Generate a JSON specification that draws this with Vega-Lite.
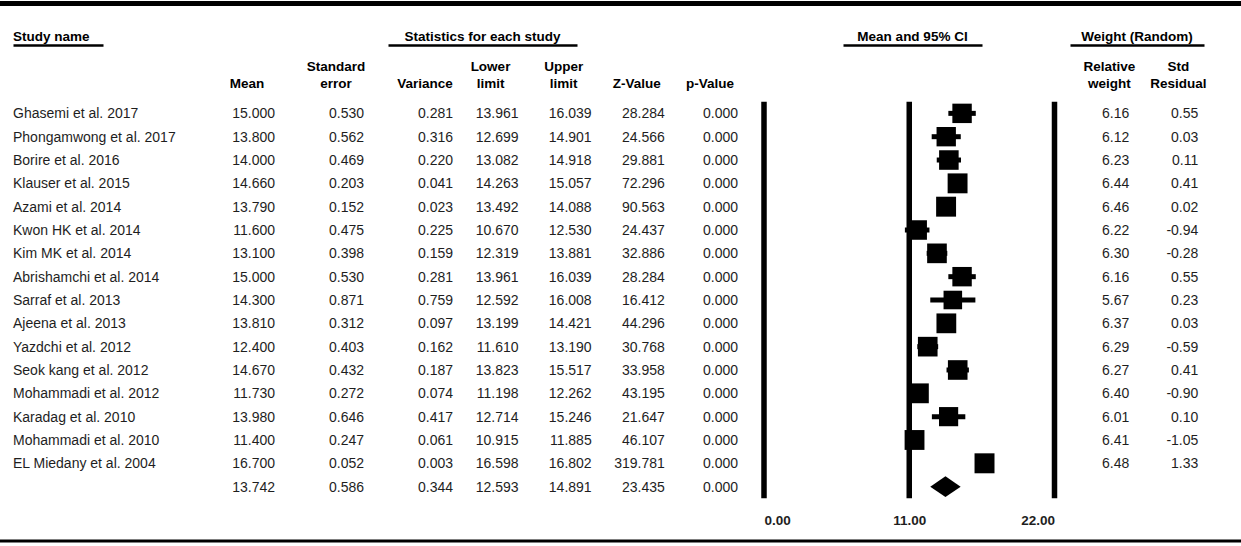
{
  "$schema": "https://vega.github.io/schema/vega-lite/v6.json",
  "width": 1241,
  "height": 546,
  "autosize": {"type": "none"},
  "padding": 0,
  "background": "white",
  "config": {
    "view": {"stroke": null},
    "text": {"font": "Liberation Sans", "color": "#1e1e1e"},
    "axis": {"labelFont": "Liberation Sans"},
    "locale": {"number": {"decimal": ".", "thousands": ",", "grouping": [3], "currency": ["$", ""], "minus": "-"}}
  },
  "datasets": {
    "studies": [
      {"study": "Ghasemi et al. 2017", "mean": 15.000, "se": 0.530, "variance": 0.281, "lower": 13.961, "upper": 16.039, "z": 28.284, "p": 0.000, "rw": 6.16, "sr": 0.55},
      {"study": "Phongamwong et al. 2017", "mean": 13.800, "se": 0.562, "variance": 0.316, "lower": 12.699, "upper": 14.901, "z": 24.566, "p": 0.000, "rw": 6.12, "sr": 0.03},
      {"study": "Borire et al. 2016", "mean": 14.000, "se": 0.469, "variance": 0.220, "lower": 13.082, "upper": 14.918, "z": 29.881, "p": 0.000, "rw": 6.23, "sr": 0.11},
      {"study": "Klauser et al. 2015", "mean": 14.660, "se": 0.203, "variance": 0.041, "lower": 14.263, "upper": 15.057, "z": 72.296, "p": 0.000, "rw": 6.44, "sr": 0.41},
      {"study": "Azami et al. 2014", "mean": 13.790, "se": 0.152, "variance": 0.023, "lower": 13.492, "upper": 14.088, "z": 90.563, "p": 0.000, "rw": 6.46, "sr": 0.02},
      {"study": "Kwon HK et al. 2014", "mean": 11.600, "se": 0.475, "variance": 0.225, "lower": 10.670, "upper": 12.530, "z": 24.437, "p": 0.000, "rw": 6.22, "sr": -0.94},
      {"study": "Kim MK et al. 2014", "mean": 13.100, "se": 0.398, "variance": 0.159, "lower": 12.319, "upper": 13.881, "z": 32.886, "p": 0.000, "rw": 6.30, "sr": -0.28},
      {"study": "Abrishamchi et al. 2014", "mean": 15.000, "se": 0.530, "variance": 0.281, "lower": 13.961, "upper": 16.039, "z": 28.284, "p": 0.000, "rw": 6.16, "sr": 0.55},
      {"study": "Sarraf et al. 2013", "mean": 14.300, "se": 0.871, "variance": 0.759, "lower": 12.592, "upper": 16.008, "z": 16.412, "p": 0.000, "rw": 5.67, "sr": 0.23},
      {"study": "Ajeena et al. 2013", "mean": 13.810, "se": 0.312, "variance": 0.097, "lower": 13.199, "upper": 14.421, "z": 44.296, "p": 0.000, "rw": 6.37, "sr": 0.03},
      {"study": "Yazdchi et al. 2012", "mean": 12.400, "se": 0.403, "variance": 0.162, "lower": 11.610, "upper": 13.190, "z": 30.768, "p": 0.000, "rw": 6.29, "sr": -0.59},
      {"study": "Seok kang et al. 2012", "mean": 14.670, "se": 0.432, "variance": 0.187, "lower": 13.823, "upper": 15.517, "z": 33.958, "p": 0.000, "rw": 6.27, "sr": 0.41},
      {"study": "Mohammadi et al. 2012", "mean": 11.730, "se": 0.272, "variance": 0.074, "lower": 11.198, "upper": 12.262, "z": 43.195, "p": 0.000, "rw": 6.40, "sr": -0.90},
      {"study": "Karadag et al. 2010", "mean": 13.980, "se": 0.646, "variance": 0.417, "lower": 12.714, "upper": 15.246, "z": 21.647, "p": 0.000, "rw": 6.01, "sr": 0.10},
      {"study": "Mohammadi et al. 2010", "mean": 11.400, "se": 0.247, "variance": 0.061, "lower": 10.915, "upper": 11.885, "z": 46.107, "p": 0.000, "rw": 6.41, "sr": -1.05},
      {"study": "EL Miedany et al. 2004", "mean": 16.700, "se": 0.052, "variance": 0.003, "lower": 16.598, "upper": 16.802, "z": 319.781, "p": 0.000, "rw": 6.48, "sr": 1.33},
      {"study": "Combined", "mean": 13.742, "se": 0.586, "variance": 0.344, "lower": 12.593, "upper": 14.891, "z": 23.435, "p": 0.000, "rw": null, "sr": null}
    ],
    "groups": [
      {"group": "study", "text": "Study name"},
      {"group": "stats", "text": "Statistics for each study"},
      {"group": "ci", "text": "Mean and 95% CI"},
      {"group": "weight", "text": "Weight (Random)"}
    ],
    "headers": [
      {"group": "statsA", "col": "mean", "text": "\nMean"},
      {"group": "statsA", "col": "se", "text": "Standard\nerror"},
      {"group": "statsA", "col": "variance", "text": "\nVariance"},
      {"group": "statsB", "col": "lower", "text": "Lower\nlimit"},
      {"group": "statsB", "col": "upper", "text": "Upper\nlimit"},
      {"group": "statsB", "col": "z", "text": "\nZ-Value"},
      {"group": "statsB", "col": "p", "text": "\np-Value"},
      {"group": "weight", "col": "rw", "text": "Relative\nweight"},
      {"group": "weight", "col": "sr", "text": "Std\nResidual"}
    ],
    "frame": [{"line": "top"}, {"line": "bottom"}],
    "refs": [{"v": 0}, {"v": 11}, {"v": 22}]
  },
  "layer": [
    {
      "data": {"name": "frame"},
      "mark": {"type": "rule", "color": "#000"},
      "encoding": {
        "y": {"field": "line", "type": "nominal", "axis": null, "scale": {"type": "point", "domain": ["top", "bottom"], "range": [3.5, 541], "padding": 0}},
        "strokeWidth": {"field": "line", "type": "nominal", "legend": null, "scale": {"domain": ["top", "bottom"], "range": [5, 3]}}
      }
    },
    {
      "data": {"name": "groups"},
      "transform": [{"filter": "datum.group === 'study'"}],
      "mark": {"type": "text", "align": "left", "baseline": "bottom", "fontWeight": "bold", "fontSize": 13.5, "color": "#000"},
      "encoding": {
        "x": {"field": "group", "type": "nominal", "scale": {"type": "point", "domain": ["study"], "range": [13, 103], "padding": 0, "align": 0},
              "axis": {"orient": "top", "offset": -45, "domain": true, "domainColor": "#000", "domainWidth": 2.5, "ticks": false, "labels": false, "grid": false, "title": null}},
        "y": {"datum": "title", "type": "nominal", "axis": null, "scale": {"type": "point", "domain": ["title", "colhead"], "range": [43.5, 73.5], "padding": 0}},
        "text": {"field": "text"}
      }
    },
    {
      "data": {"name": "groups"},
      "transform": [{"filter": "datum.group === 'stats'"}],
      "mark": {"type": "text", "align": "center", "baseline": "bottom", "fontWeight": "bold", "fontSize": 13.5, "color": "#000"},
      "encoding": {
        "x": {"field": "group", "type": "nominal", "scale": {"type": "point", "domain": ["stats"], "range": [388, 577], "padding": 0},
              "axis": {"orient": "top", "offset": -45, "domain": true, "domainColor": "#000", "domainWidth": 2.5, "ticks": false, "labels": false, "grid": false, "title": null}},
        "y": {"datum": "title", "type": "nominal", "axis": null, "scale": {"type": "point", "domain": ["title", "colhead"], "range": [43.5, 73.5], "padding": 0}},
        "text": {"field": "text"}
      }
    },
    {
      "data": {"name": "groups"},
      "transform": [{"filter": "datum.group === 'ci'"}],
      "mark": {"type": "text", "align": "center", "baseline": "bottom", "fontWeight": "bold", "fontSize": 13.5, "color": "#000"},
      "encoding": {
        "x": {"field": "group", "type": "nominal", "scale": {"type": "point", "domain": ["ci"], "range": [843, 982], "padding": 0},
              "axis": {"orient": "top", "offset": -45, "domain": true, "domainColor": "#000", "domainWidth": 2.5, "ticks": false, "labels": false, "grid": false, "title": null}},
        "y": {"datum": "title", "type": "nominal", "axis": null, "scale": {"type": "point", "domain": ["title", "colhead"], "range": [43.5, 73.5], "padding": 0}},
        "text": {"field": "text"}
      }
    },
    {
      "data": {"name": "groups"},
      "transform": [{"filter": "datum.group === 'weight'"}],
      "mark": {"type": "text", "align": "center", "baseline": "bottom", "fontWeight": "bold", "fontSize": 13.5, "color": "#000"},
      "encoding": {
        "x": {"field": "group", "type": "nominal", "scale": {"type": "point", "domain": ["weight"], "range": [1070, 1204], "padding": 0},
              "axis": {"orient": "top", "offset": -45, "domain": true, "domainColor": "#000", "domainWidth": 2.5, "ticks": false, "labels": false, "grid": false, "title": null}},
        "y": {"datum": "title", "type": "nominal", "axis": null, "scale": {"type": "point", "domain": ["title", "colhead"], "range": [43.5, 73.5], "padding": 0}},
        "text": {"field": "text"}
      }
    },
    {
      "data": {"name": "studies"},
      "transform": [{"filter": "datum.study !== 'Combined'"}],
      "mark": {"type": "text", "align": "left", "baseline": "middle", "fontSize": 14, "dy": 1},
      "encoding": {
        "x": {"datum": "study", "type": "nominal", "axis": null, "scale": {"type": "point", "domain": ["study"], "range": [13, 103], "padding": 0, "align": 0}},
        "y": {"field": "study", "type": "nominal", "axis": null, "scale": {"type": "band", "domain": ["Ghasemi et al. 2017", "Phongamwong et al. 2017", "Borire et al. 2016", "Klauser et al. 2015", "Azami et al. 2014", "Kwon HK et al. 2014", "Kim MK et al. 2014", "Abrishamchi et al. 2014", "Sarraf et al. 2013", "Ajeena et al. 2013", "Yazdchi et al. 2012", "Seok kang et al. 2012", "Mohammadi et al. 2012", "Karadag et al. 2010", "Mohammadi et al. 2010", "EL Miedany et al. 2004", "Combined"], "range": [101.7, 498.3], "paddingInner": 0, "paddingOuter": 0}},
        "text": {"field": "study"}
      }
    },
    {
      "data": {"name": "studies"},
      "transform": [{"fold": ["mean", "se", "variance"], "as": ["key", "value"]}],
      "mark": {"type": "text", "align": "right", "baseline": "middle", "fontSize": 14, "dy": 1},
      "encoding": {
        "x": {"field": "key", "type": "nominal", "axis": null, "scale": {"type": "point", "domain": ["mean", "se", "variance"], "range": [275, 453], "padding": 0}},
        "y": {"field": "study", "type": "nominal", "axis": null, "scale": {"type": "band", "domain": ["Ghasemi et al. 2017", "Phongamwong et al. 2017", "Borire et al. 2016", "Klauser et al. 2015", "Azami et al. 2014", "Kwon HK et al. 2014", "Kim MK et al. 2014", "Abrishamchi et al. 2014", "Sarraf et al. 2013", "Ajeena et al. 2013", "Yazdchi et al. 2012", "Seok kang et al. 2012", "Mohammadi et al. 2012", "Karadag et al. 2010", "Mohammadi et al. 2010", "EL Miedany et al. 2004", "Combined"], "range": [101.7, 498.3], "paddingInner": 0, "paddingOuter": 0}},
        "text": {"field": "value", "type": "quantitative", "format": ".3f"}
      }
    },
    {
      "data": {"name": "headers"},
      "transform": [{"filter": "datum.group === 'statsA'"}],
      "mark": {"type": "text", "align": "center", "baseline": "bottom", "fontWeight": "bold", "fontSize": 13.5, "lineBreak": "\n", "lineHeight": 17.6, "dx": -28, "color": "#000"},
      "encoding": {
        "x": {"field": "col", "type": "nominal", "axis": null, "scale": {"type": "point", "domain": ["mean", "se", "variance"], "range": [275, 453], "padding": 0}},
        "y": {"datum": "colhead", "type": "nominal", "axis": null, "scale": {"type": "point", "domain": ["title", "colhead"], "range": [43.5, 73.5], "padding": 0}},
        "text": {"field": "text"}
      }
    },
    {
      "data": {"name": "studies"},
      "transform": [{"fold": ["lower", "upper", "z", "p"], "as": ["key", "value"]}],
      "mark": {"type": "text", "align": "right", "baseline": "middle", "fontSize": 14, "dy": 1},
      "encoding": {
        "x": {"field": "key", "type": "nominal", "axis": null, "scale": {"type": "point", "domain": ["lower", "upper", "z", "p"], "range": [518.5, 738], "padding": 0}},
        "y": {"field": "study", "type": "nominal", "axis": null, "scale": {"type": "band", "domain": ["Ghasemi et al. 2017", "Phongamwong et al. 2017", "Borire et al. 2016", "Klauser et al. 2015", "Azami et al. 2014", "Kwon HK et al. 2014", "Kim MK et al. 2014", "Abrishamchi et al. 2014", "Sarraf et al. 2013", "Ajeena et al. 2013", "Yazdchi et al. 2012", "Seok kang et al. 2012", "Mohammadi et al. 2012", "Karadag et al. 2010", "Mohammadi et al. 2010", "EL Miedany et al. 2004", "Combined"], "range": [101.7, 498.3], "paddingInner": 0, "paddingOuter": 0}},
        "text": {"field": "value", "type": "quantitative", "format": ".3f"}
      }
    },
    {
      "data": {"name": "headers"},
      "transform": [{"filter": "datum.group === 'statsB'"}],
      "mark": {"type": "text", "align": "center", "baseline": "bottom", "fontWeight": "bold", "fontSize": 13.5, "lineBreak": "\n", "lineHeight": 17.6, "dx": -28, "color": "#000"},
      "encoding": {
        "x": {"field": "col", "type": "nominal", "axis": null, "scale": {"type": "point", "domain": ["lower", "upper", "z", "p"], "range": [518.5, 738], "padding": 0}},
        "y": {"datum": "colhead", "type": "nominal", "axis": null, "scale": {"type": "point", "domain": ["title", "colhead"], "range": [43.5, 73.5], "padding": 0}},
        "text": {"field": "text"}
      }
    },
    {
      "data": {"name": "studies"},
      "transform": [{"fold": ["rw", "sr"], "as": ["key", "value"]}, {"filter": "isValid(datum.value)"}],
      "mark": {"type": "text", "align": "right", "baseline": "middle", "fontSize": 14, "dy": 1},
      "encoding": {
        "x": {"field": "key", "type": "nominal", "axis": null, "scale": {"type": "point", "domain": ["rw", "sr"], "range": [1129.3, 1198.3], "padding": 0}},
        "y": {"field": "study", "type": "nominal", "axis": null, "scale": {"type": "band", "domain": ["Ghasemi et al. 2017", "Phongamwong et al. 2017", "Borire et al. 2016", "Klauser et al. 2015", "Azami et al. 2014", "Kwon HK et al. 2014", "Kim MK et al. 2014", "Abrishamchi et al. 2014", "Sarraf et al. 2013", "Ajeena et al. 2013", "Yazdchi et al. 2012", "Seok kang et al. 2012", "Mohammadi et al. 2012", "Karadag et al. 2010", "Mohammadi et al. 2010", "EL Miedany et al. 2004", "Combined"], "range": [101.7, 498.3], "paddingInner": 0, "paddingOuter": 0}},
        "text": {"field": "value", "type": "quantitative", "format": ".2f"}
      }
    },
    {
      "data": {"name": "headers"},
      "transform": [{"filter": "datum.group === 'weight'"}],
      "mark": {"type": "text", "align": "center", "baseline": "bottom", "fontWeight": "bold", "fontSize": 13.5, "lineBreak": "\n", "lineHeight": 17.6, "dx": -20, "color": "#000"},
      "encoding": {
        "x": {"field": "col", "type": "nominal", "axis": null, "scale": {"type": "point", "domain": ["rw", "sr"], "range": [1129.3, 1198.3], "padding": 0}},
        "y": {"datum": "colhead", "type": "nominal", "axis": null, "scale": {"type": "point", "domain": ["title", "colhead"], "range": [43.5, 73.5], "padding": 0}},
        "text": {"field": "text"}
      }
    },
    {
      "data": {"name": "refs"},
      "mark": {"type": "rule", "color": "#000", "strokeWidth": 5.5},
      "encoding": {
        "x": {"field": "v", "type": "quantitative", "scale": {"domain": [0, 22], "range": [764, 1054.5], "nice": false, "zero": false},
              "axis": {"orient": "bottom", "offset": -36, "values": [0, 11, 22], "format": ".2f", "domain": false, "ticks": false, "grid": false, "title": null, "labelFontWeight": "bold", "labelFontSize": 13.5, "labelColor": "#1e1e1e", "labelPadding": 3}},
        "y": {"datum": "Ghasemi et al. 2017", "type": "nominal", "bandPosition": 0, "axis": null, "scale": {"type": "band", "domain": ["Ghasemi et al. 2017", "Phongamwong et al. 2017", "Borire et al. 2016", "Klauser et al. 2015", "Azami et al. 2014", "Kwon HK et al. 2014", "Kim MK et al. 2014", "Abrishamchi et al. 2014", "Sarraf et al. 2013", "Ajeena et al. 2013", "Yazdchi et al. 2012", "Seok kang et al. 2012", "Mohammadi et al. 2012", "Karadag et al. 2010", "Mohammadi et al. 2010", "EL Miedany et al. 2004", "Combined"], "range": [101.7, 498.3], "paddingInner": 0, "paddingOuter": 0}},
        "y2": {"datum": "Combined", "bandPosition": 1}
      }
    },
    {
      "data": {"name": "studies"},
      "transform": [{"filter": "datum.study !== 'Combined'"}],
      "mark": {"type": "rule", "color": "#000", "strokeWidth": 5},
      "encoding": {
        "x": {"field": "lower", "type": "quantitative", "axis": null, "scale": {"domain": [0, 22], "range": [764, 1054.5], "nice": false, "zero": false}},
        "x2": {"field": "upper"},
        "y": {"field": "study", "type": "nominal", "axis": null, "scale": {"type": "band", "domain": ["Ghasemi et al. 2017", "Phongamwong et al. 2017", "Borire et al. 2016", "Klauser et al. 2015", "Azami et al. 2014", "Kwon HK et al. 2014", "Kim MK et al. 2014", "Abrishamchi et al. 2014", "Sarraf et al. 2013", "Ajeena et al. 2013", "Yazdchi et al. 2012", "Seok kang et al. 2012", "Mohammadi et al. 2012", "Karadag et al. 2010", "Mohammadi et al. 2010", "EL Miedany et al. 2004", "Combined"], "range": [101.7, 498.3], "paddingInner": 0, "paddingOuter": 0}}
      }
    },
    {
      "data": {"name": "studies"},
      "transform": [{"filter": "datum.study !== 'Combined'"}],
      "mark": {"type": "point", "shape": "square", "filled": true, "color": "#000", "opacity": 1},
      "encoding": {
        "x": {"field": "mean", "type": "quantitative", "axis": null, "scale": {"domain": [0, 22], "range": [764, 1054.5], "nice": false, "zero": false}},
        "y": {"field": "study", "type": "nominal", "axis": null, "scale": {"type": "band", "domain": ["Ghasemi et al. 2017", "Phongamwong et al. 2017", "Borire et al. 2016", "Klauser et al. 2015", "Azami et al. 2014", "Kwon HK et al. 2014", "Kim MK et al. 2014", "Abrishamchi et al. 2014", "Sarraf et al. 2013", "Ajeena et al. 2013", "Yazdchi et al. 2012", "Seok kang et al. 2012", "Mohammadi et al. 2012", "Karadag et al. 2010", "Mohammadi et al. 2010", "EL Miedany et al. 2004", "Combined"], "range": [101.7, 498.3], "paddingInner": 0, "paddingOuter": 0}},
        "size": {"field": "rw", "type": "quantitative", "legend": null, "scale": {"domain": [5.6, 6.5], "range": [340, 400], "zero": false}}
      }
    },
    {
      "data": {"name": "studies"},
      "transform": [{"filter": "datum.study === 'Combined'"}],
      "mark": {"type": "point", "shape": "M-1,0L0,-0.69L1,0L0,0.69Z", "filled": true, "color": "#000", "opacity": 1, "size": 924},
      "encoding": {
        "x": {"field": "mean", "type": "quantitative", "axis": null, "scale": {"domain": [0, 22], "range": [764, 1054.5], "nice": false, "zero": false}},
        "y": {"field": "study", "type": "nominal", "axis": null, "scale": {"type": "band", "domain": ["Ghasemi et al. 2017", "Phongamwong et al. 2017", "Borire et al. 2016", "Klauser et al. 2015", "Azami et al. 2014", "Kwon HK et al. 2014", "Kim MK et al. 2014", "Abrishamchi et al. 2014", "Sarraf et al. 2013", "Ajeena et al. 2013", "Yazdchi et al. 2012", "Seok kang et al. 2012", "Mohammadi et al. 2012", "Karadag et al. 2010", "Mohammadi et al. 2010", "EL Miedany et al. 2004", "Combined"], "range": [101.7, 498.3], "paddingInner": 0, "paddingOuter": 0}}
      }
    }
  ],
  "resolve": {
    "scale": {"x": "independent", "y": "independent", "size": "independent", "strokeWidth": "independent"},
    "axis": {"x": "independent", "y": "independent"}
  }
}
